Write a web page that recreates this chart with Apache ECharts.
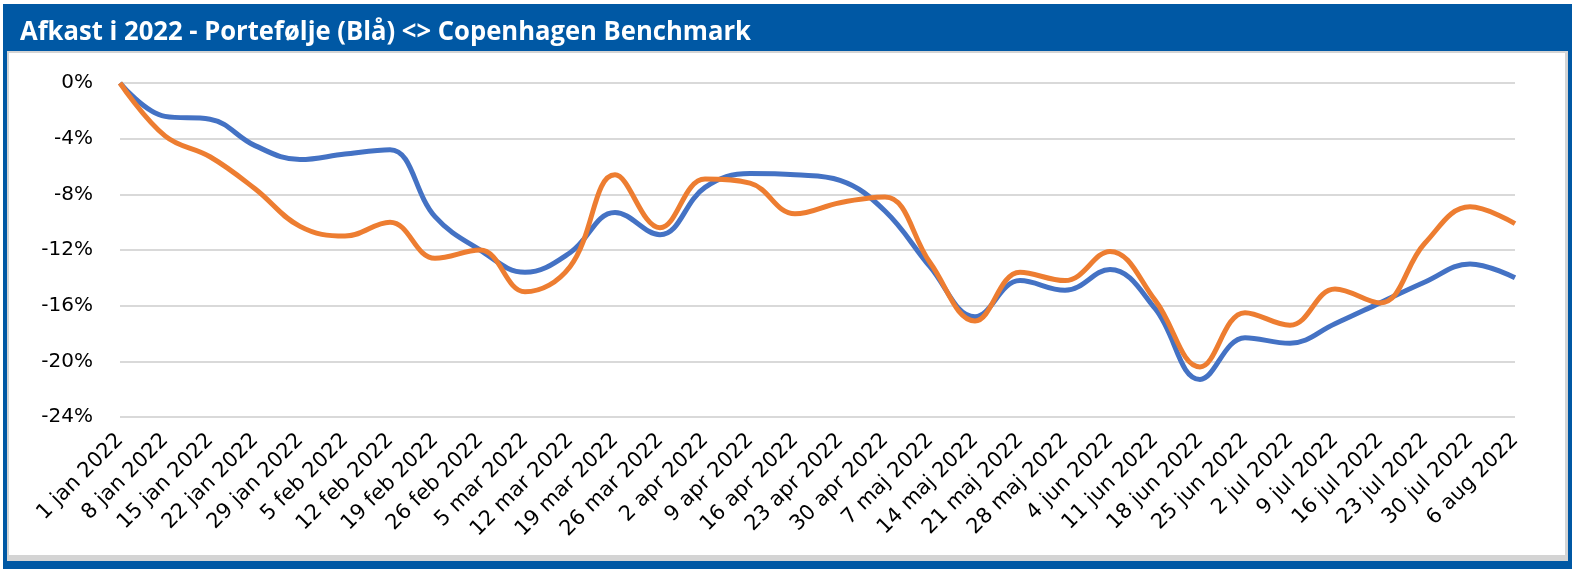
<!DOCTYPE html>
<html>
<head>
<meta charset="utf-8">
<script src="https://cdn.jsdelivr.net/npm/echarts@6/dist/echarts.min.js"></script>
<style>
html,body{margin:0;padding:0;background:#fff;}
#chart{width:1577px;height:575px;}
</style>
</head>
<body>
<div id="chart"></div>
<script>
var titleText = 'Afkast i 2022 - Portefølje (Blå) <> Copenhagen Benchmark';

var categories = ['1 jan 2022','8 jan 2022','15 jan 2022','22 jan 2022','29 jan 2022',
  '5 feb 2022','12 feb 2022','19 feb 2022','26 feb 2022',
  '5 mar 2022','12 mar 2022','19 mar 2022','26 mar 2022',
  '2 apr 2022','9 apr 2022','16 apr 2022','23 apr 2022','30 apr 2022',
  '7 maj 2022','14 maj 2022','21 maj 2022','28 maj 2022',
  '4 jun 2022','11 jun 2022','18 jun 2022','25 jun 2022',
  '2 jul 2022','9 jul 2022','16 jul 2022','23 jul 2022','30 jul 2022',
  '6 aug 2022'];

var portfolio = [0, -2.4, -2.6, -4.5, -5.5, -5.1, -4.8, -9.6, -12.0, -13.6, -12.2, -9.3, -10.9, -7.5, -6.5, -6.6,
  -7.0, -9.2, -13.2, -16.8, -14.2, -14.9, -13.4, -16.2, -21.3, -18.3, -18.7, -17.3, -15.8, -14.3, -13.0, -14.0];

var benchmark = [0, -3.8, -5.3, -7.6, -10.3, -11.0, -10.0, -12.6, -12.0, -15.0, -13.2, -6.6, -10.4, -6.9, -7.2, -9.4,
  -8.6, -8.2, -12.9, -17.1, -13.6, -14.2, -12.1, -15.6, -20.4, -16.5, -17.4, -14.8, -15.8, -11.5, -8.9, -10.1];

var yTicks = [0, -4, -8, -12, -16, -20, -24];

var titleFont = 'bold 27px "Open Sans"';
var ctx = document.createElement('canvas').getContext('2d');
ctx.font = titleFont;
var titleScale = 731 / ctx.measureText(titleText).width;

var chart = echarts.init(document.getElementById('chart'));
chart.setOption({
  animation: false,
  backgroundColor: '#ffffff',
  graphic: [
    {type:'rect', z:-10, silent:true, shape:{x:3,y:4,width:1569,height:565}, style:{fill:'#0058A4'}},
    {type:'rect', z:-9, silent:true, shape:{x:7,y:51,width:1561,height:510}, style:{fill:'#D4D4D4'}},
    {type:'rect', z:-8, silent:true, shape:{x:9,y:53,width:1556,height:502}, style:{fill:'#ffffff'}},
    {type:'text', z:10, silent:true, x:20, y:32, scaleX:titleScale, scaleY:1,
      style:{text:titleText, font:titleFont, fill:'#ffffff', verticalAlign:'middle', align:'left'}}
  ],
  grid: {left:120, right:62, top:83, bottom:158, containLabel:false},
  xAxis: {
    type:'category',
    data: categories,
    boundaryGap:false,
    axisLine:{show:false},
    axisTick:{show:false},
    axisLabel:{rotate:45, margin:20, fontFamily:'DejaVu Sans', fontSize:21, color:'#000', interval:0}
  },
  yAxis: {
    type:'value',
    min:-24, max:0, interval:4,
    axisLine:{show:false},
    axisTick:{show:false},
    axisLabel:{margin:27, fontFamily:'DejaVu Sans', fontSize:20, color:'#000',
      formatter:function(v){return v + '%';}},
    splitLine:{lineStyle:{color:'#D9D9D9', width:2}}
  },
  series: [
    {name:'Portefølje', type:'line', data:portfolio, smooth:0.4, symbol:'none',
      lineStyle:{color:'#4472C4', width:5}, itemStyle:{color:'#4472C4'}},
    {name:'Copenhagen Benchmark', type:'line', data:benchmark, smooth:0.4, symbol:'none',
      lineStyle:{color:'#ED7D31', width:5}, itemStyle:{color:'#ED7D31'}}
  ]
});
</script>
</body>
</html>
